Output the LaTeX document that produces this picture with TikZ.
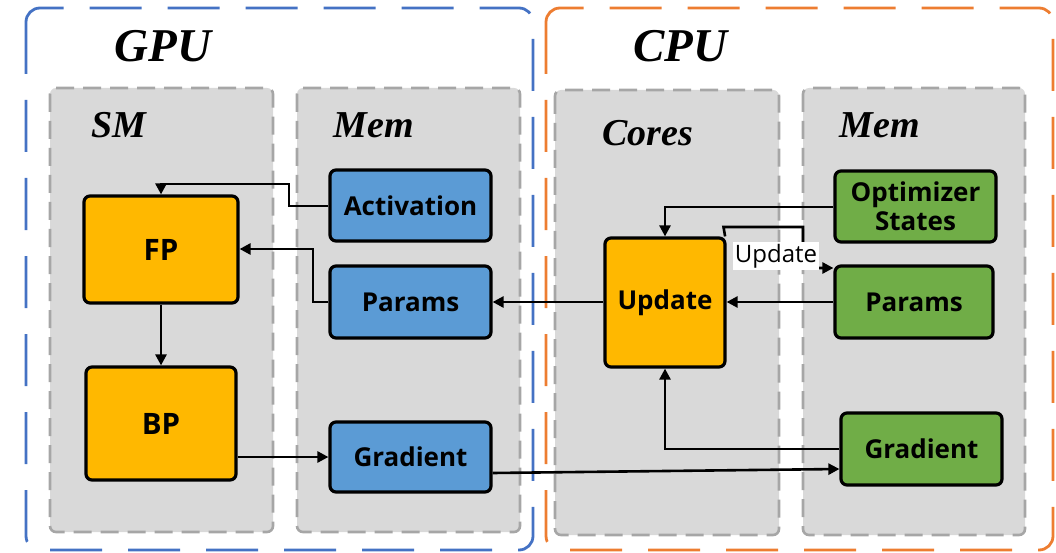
\documentclass[tikz,border=0pt]{standalone}
\usepackage{fontspec}
\setmainfont{Liberation Serif}
\setsansfont{Open Sans}
\usetikzlibrary{arrows.meta,calc}
\definecolor{gpublue}{HTML}{4472C4}
\definecolor{cpuorange}{HTML}{ED7D31}
\definecolor{panelgray}{HTML}{D9D9D9}
\definecolor{panelborder}{HTML}{A6A6A6}
\definecolor{boxorange}{HTML}{FFB800}
\definecolor{boxblue}{HTML}{5B9BD5}
\definecolor{boxgreen}{HTML}{70AD47}
\tikzset{
  outerbox/.style={line width=2.8pt, rounded corners=14pt, dash pattern=on 52pt off 26pt},
  panel/.style={fill=panelgray, draw=panelborder, line width=2.6pt, rounded corners=6pt, dash pattern=on 18pt off 9pt},
  bigtitle/.style={font=\fontsize{47}{50}\selectfont\bfseries\itshape, anchor=base, inner sep=0pt},
  subtitle/.style={font=\fontsize{38}{40}\selectfont\bfseries\itshape, anchor=base, inner sep=0pt},
  blk/.style={draw=black, line width=3.2pt, rounded corners=6pt, inner sep=0pt, align=center,
              font=\sffamily\bfseries\fontsize{26}{29}\selectfont},
  bigblk/.style={blk, font=\sffamily\bfseries\fontsize{29.5}{32}\selectfont},
  conn/.style={line width=2.6pt, -{Triangle[length=11pt,width=11pt]}},
  lbl/.style={fill=white, inner sep=2pt, font=\sffamily\fontsize{24}{26}\selectfont},
}
\begin{document}
\begin{tikzpicture}[x=1pt,y=-1pt]
\useasboundingbox (0,0) rectangle (1056,553);
% outer boxes
\draw[outerbox, gpublue] (26,8) rectangle (533,550);
\draw[outerbox, cpuorange] (546,8) rectangle (1053,550);
% panels
\draw[panel] (50,88) rectangle (273,532);
\draw[panel] (297,88) rectangle (520,532);
\draw[panel] (555,90) rectangle (779,535);
\draw[panel] (803,88) rectangle (1025,535);
% titles
\node[bigtitle] (tgpu) at (163,62) {GPU};
\node[bigtitle] (tcpu) at (680,62) {CPU};
\node[subtitle] (tsm) at (119,138) {SM};
\node[subtitle] (tmemg) at (374,138) {Mem};
\node[subtitle] (tcores) at (648,146) {Cores};
\node[subtitle] (tmemc) at (880,138) {Mem};
% blocks
\node[bigblk, fill=boxorange, minimum width=154pt, minimum height=107pt] (fp) at (161,249.5) {FP};
\node[bigblk, fill=boxorange, minimum width=150pt, minimum height=113pt] (bp) at (161,423.5) {BP};
\node[blk, fill=boxblue, minimum width=161pt, minimum height=71pt] (act) at (410.5,205.5) {Activation};
\node[blk, fill=boxblue, minimum width=161pt, minimum height=72pt] (pg) at (410.5,302) {Params};
\node[blk, fill=boxblue, minimum width=161pt, minimum height=70pt] (gg) at (410.5,457) {Gradient};
\node[blk, fill=boxorange, minimum width=120pt, minimum height=129pt] (upd) at (665,302.5) {Update};
\node[blk, fill=boxgreen, minimum width=161pt, minimum height=71pt] (opt) at (915.5,206.5) {Optimizer\\States};
\node[blk, fill=boxgreen, minimum width=158pt, minimum height=72pt] (pc) at (914,302) {Params};
\node[blk, fill=boxgreen, minimum width=161pt, minimum height=72pt] (gc) at (921.5,449) {Gradient};
% connectors
\coordinate (a1) at (289,206);
\draw[conn] (act.west |- a1) -- (a1) -- (289,184) -- (161,184) -- (fp.north);
\draw[conn] (pg.west |- 0,302) -- (313,302) -- (313,249) -- (fp.east |- 0,249);
\draw[conn] (fp.south) -- (bp.north);
\draw[conn] (bp.east |- 0,457) -- (gg.west |- 0,457);
\draw[conn] ($(gg.east)+(0,16)$) -- ($(gc.west)+(0,20)$);
\draw[conn] (upd.west |- 0,302) -- (pg.east |- 0,302);
\draw[conn] (pc.west |- 0,302) -- (upd.east |- 0,302);
\draw[conn] (opt.west |- 0,207) -- (665,207) -- (upd.north);
\draw[conn] (gc.west |- 0,449) -- (665,449) -- (upd.south);
\draw[conn] ($(upd.north east)+(-1.5,0)$) -- (723.5,227) -- (803,227) -- (803,268) -- (pc.west |- 0,268);
\node[lbl] (ulbl) at (776,256) {Update};
\end{tikzpicture}
\end{document}
